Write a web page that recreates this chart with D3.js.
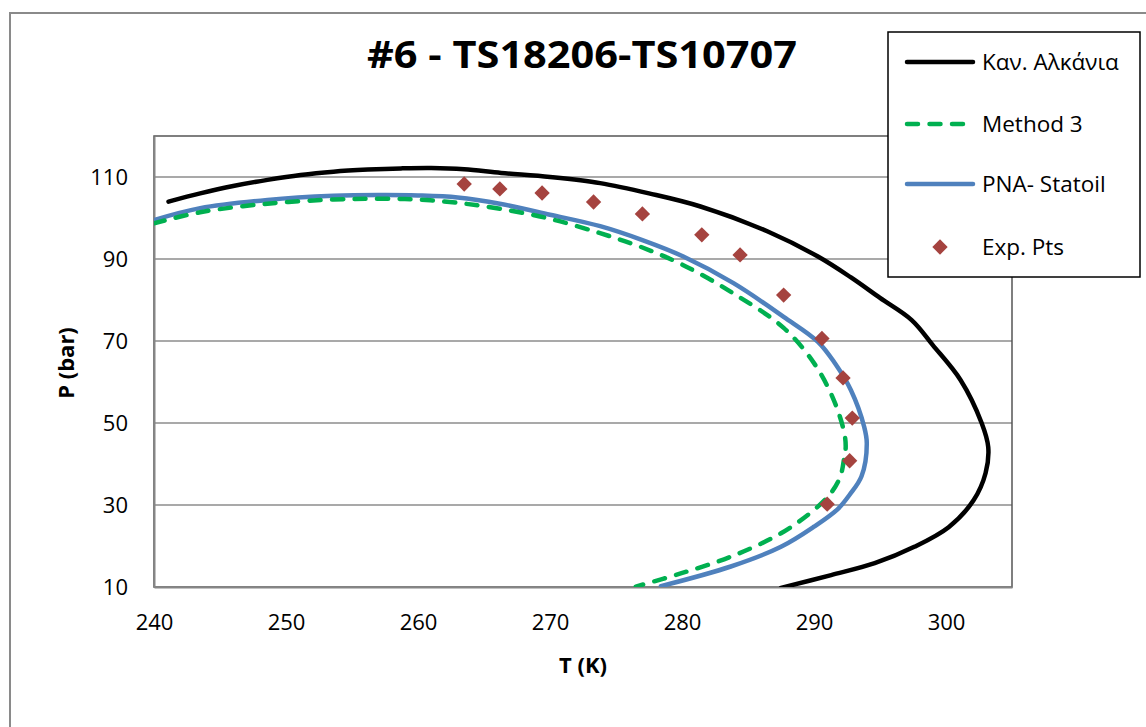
<!DOCTYPE html>
<html>
<head>
<meta charset="utf-8">
<script src="https://cdn.jsdelivr.net/npm/d3@7"></script>
<style>
  html, body { margin: 0; padding: 0; background: #fff; }
  svg { display: block; font-family: "Open Sans", "DejaVu Sans", sans-serif; }
</style>
</head>
<body>
<svg id="chart" width="1146" height="727"></svg>
<script>
// ---- data ----
const title = "#6 - TS18206-TS10707";
const xTicks = [240, 250, 260, 270, 280, 290, 300];
const yTicks = [10, 30, 50, 70, 90, 110];
const seriesNames = ["Καν. Αλκάνια", "Method 3", "PNA- Statoil", "Exp. Pts"];

const alkanesT = [241.1,243.5,246.0,248.6,251.1,253.6,256.2,258.7,261.0,263.5,266.3,270.0,273.8,277.5,281.4,286.5,290.3,292.8,295.0,297.4,299.0,301.1,302.7,303.2,303.0,302.1,300.2,297.6,294.6,291.3,287.5];
const alkanesP = [104.0,106.0,107.8,109.3,110.5,111.3,111.8,112.1,112.2,111.9,111.0,110.0,108.5,106.0,102.8,96.7,90.6,85.5,80.5,75.1,69.0,60.5,50.0,44.1,37.8,31.2,24.6,19.8,15.8,12.9,9.8];

const method3T = [240.0,243.5,248.6,253.6,257.0,260.0,263.0,266.3,270.0,273.8,277.0,280.1,283.9,287.7,290.0,291.5,292.3,292.4,292.3,292.0,291.3,290.0,287.5,283.7,279.9,276.5];
const method3P = [98.7,101.4,103.5,104.5,104.7,104.5,103.7,102.2,99.8,96.3,92.8,88.5,81.6,73.2,64.6,55.6,47.5,44.0,41.8,37.0,33.0,28.8,23.1,17.4,13.3,10.1];

const pnaT = [240.0,243.5,248.6,253.6,257.0,260.0,263.0,266.3,270.0,273.8,277.0,280.1,283.9,287.7,290.3,291.6,292.8,293.8,294.0,293.6,292.7,291.8,290.0,287.5,283.7,278.4];
const pnaP = [99.5,102.4,104.4,105.4,105.6,105.5,105.0,103.4,100.8,98.0,94.6,90.6,84.1,75.9,69.8,64.5,58.0,49.1,45.0,37.0,32.5,29.0,24.7,19.8,15.0,10.2];

const expT = [263.5,266.2,269.4,273.3,277.0,281.5,284.4,287.7,290.6,292.2,292.9,292.7,291.0];
const expP = [108.3,107.1,106.1,103.9,101.0,95.9,91.0,81.2,70.6,61.0,51.2,40.8,30.2];

// ---- layout ----
const svg = d3.select("#chart");
const plot = { left: 154, top: 136, right: 1012, bottom: 587 };
const x = d3.scaleLinear().domain([240, 305]).range([plot.left, plot.right]);
const y = d3.scaleLinear().domain([10, 120]).range([plot.bottom, plot.top]);

// outer chart border
svg.append("rect").attr("x", 10).attr("y", 13).attr("width", 1160).attr("height", 740)
  .attr("fill", "#fff").attr("stroke", "#8a8a8a").attr("stroke-width", 2);

// gridlines
svg.append("g").selectAll("line").data(yTicks.filter(d => d > 10)).join("line")
  .attr("x1", plot.left).attr("x2", plot.right)
  .attr("y1", d => y(d)).attr("y2", d => y(d))
  .attr("stroke", "#8c8c8c").attr("stroke-width", 1.5);

// plot area border
svg.append("rect").attr("x", plot.left).attr("y", plot.top)
  .attr("width", plot.right - plot.left).attr("height", plot.bottom - plot.top)
  .attr("fill", "none").attr("stroke", "#555").attr("stroke-width", 1.5);

// axes
const xAxis = d3.axisBottom(x).tickValues(xTicks).tickSize(0).tickPadding(0).tickFormat(d3.format("d"));
const yAxis = d3.axisLeft(y).tickValues(yTicks).tickSize(0).tickPadding(0).tickFormat(d3.format("d"));

const gx = svg.append("g").attr("transform", `translate(0,${plot.bottom})`).call(xAxis);
gx.select(".domain").attr("stroke", "#868686").attr("stroke-width", 2);
gx.selectAll("text").attr("y", 0).attr("dy", 0).attr("transform", "translate(0,43)")
  .attr("font-size", 22).attr("fill", "#000").attr("font-family", "Open Sans");

const gy = svg.append("g").attr("transform", `translate(${plot.left},0)`).call(yAxis);
gy.select(".domain").attr("stroke", "#868686").attr("stroke-width", 2);
gy.selectAll("text").attr("x", -26).attr("dy", "0.36em")
  .attr("font-size", 22).attr("fill", "#000").attr("font-family", "Open Sans");

// axis titles
svg.append("text").attr("x", (plot.left + plot.right) / 2).attr("y", 673)
  .attr("text-anchor", "middle").attr("font-size", 22).attr("font-weight", "bold").text("T (K)");
svg.append("text").attr("transform", `translate(74,363) rotate(-90)`)
  .attr("text-anchor", "middle").attr("font-size", 22).attr("font-weight", "bold").text("P (bar)");

// title
svg.append("text").attr("x", 582).attr("y", 68).attr("text-anchor", "middle")
  .attr("font-size", 37).attr("font-weight", "bold").attr("textLength", 430)
  .attr("lengthAdjust", "spacingAndGlyphs").text(title);

// lines
svg.append("clipPath").attr("id", "clip").append("rect")
  .attr("x", plot.left).attr("y", plot.top - 5).attr("width", plot.right - plot.left).attr("height", plot.bottom - plot.top + 5);

const line = d3.line().x(d => x(d[0])).y(d => y(d[1])).curve(d3.curveCatmullRom.alpha(0.5));
const zip = (a, b) => a.map((v, i) => [v, b[i]]);

const g = svg.append("g").attr("clip-path", "url(#clip)");
g.append("path").datum(zip(alkanesT, alkanesP)).attr("d", line)
  .attr("fill", "none").attr("stroke", "#000").attr("stroke-width", 4.5)
  .attr("stroke-linejoin", "round").attr("stroke-linecap", "round");
g.append("path").datum(zip(pnaT, pnaP)).attr("d", line)
  .attr("fill", "none").attr("stroke", "#4F81BD").attr("stroke-width", 4.5)
  .attr("stroke-linejoin", "round").attr("stroke-linecap", "round");
g.append("path").datum(zip(method3T, method3P)).attr("d", line)
  .attr("fill", "none").attr("stroke", "#00B050").attr("stroke-width", 4.5)
  .attr("stroke-dasharray", "11,11.5").attr("stroke-linecap", "round");

// exp points
const diamond = d3.symbol().type(d3.symbolDiamond2).size(150);
svg.append("g").selectAll("path").data(zip(expT, expP)).join("path")
  .attr("transform", d => `translate(${x(d[0])},${y(d[1])})`)
  .attr("d", diamond).attr("fill", "#A5433F");

// legend
const lg = svg.append("g");
lg.append("rect").attr("x", 888).attr("y", 32).attr("width", 252).attr("height", 245)
  .attr("fill", "#fff").attr("stroke", "#000").attr("stroke-width", 1.5);
const ly = [62, 124, 184, 247];
const styles = [
  { stroke: "#000", dash: null },
  { stroke: "#00B050", dash: "11,11.5" },
  { stroke: "#4F81BD", dash: null },
  null
];
seriesNames.forEach((name, i) => {
  if (styles[i]) {
    lg.append("line").attr("x1", 907).attr("x2", 973).attr("y1", ly[i]).attr("y2", ly[i])
      .attr("stroke", styles[i].stroke).attr("stroke-width", 4.5)
      .attr("stroke-linecap", "round").attr("stroke-dasharray", styles[i].dash);
  } else {
    lg.append("path").attr("transform", `translate(940,${ly[i]})`).attr("d", diamond).attr("fill", "#A5433F");
  }
  lg.append("text").attr("x", 982).attr("y", ly[i]).attr("dy", "0.36em")
    .attr("font-size", 22.5).attr("fill", "#000").text(name);
});
</script>
</body>
</html>
